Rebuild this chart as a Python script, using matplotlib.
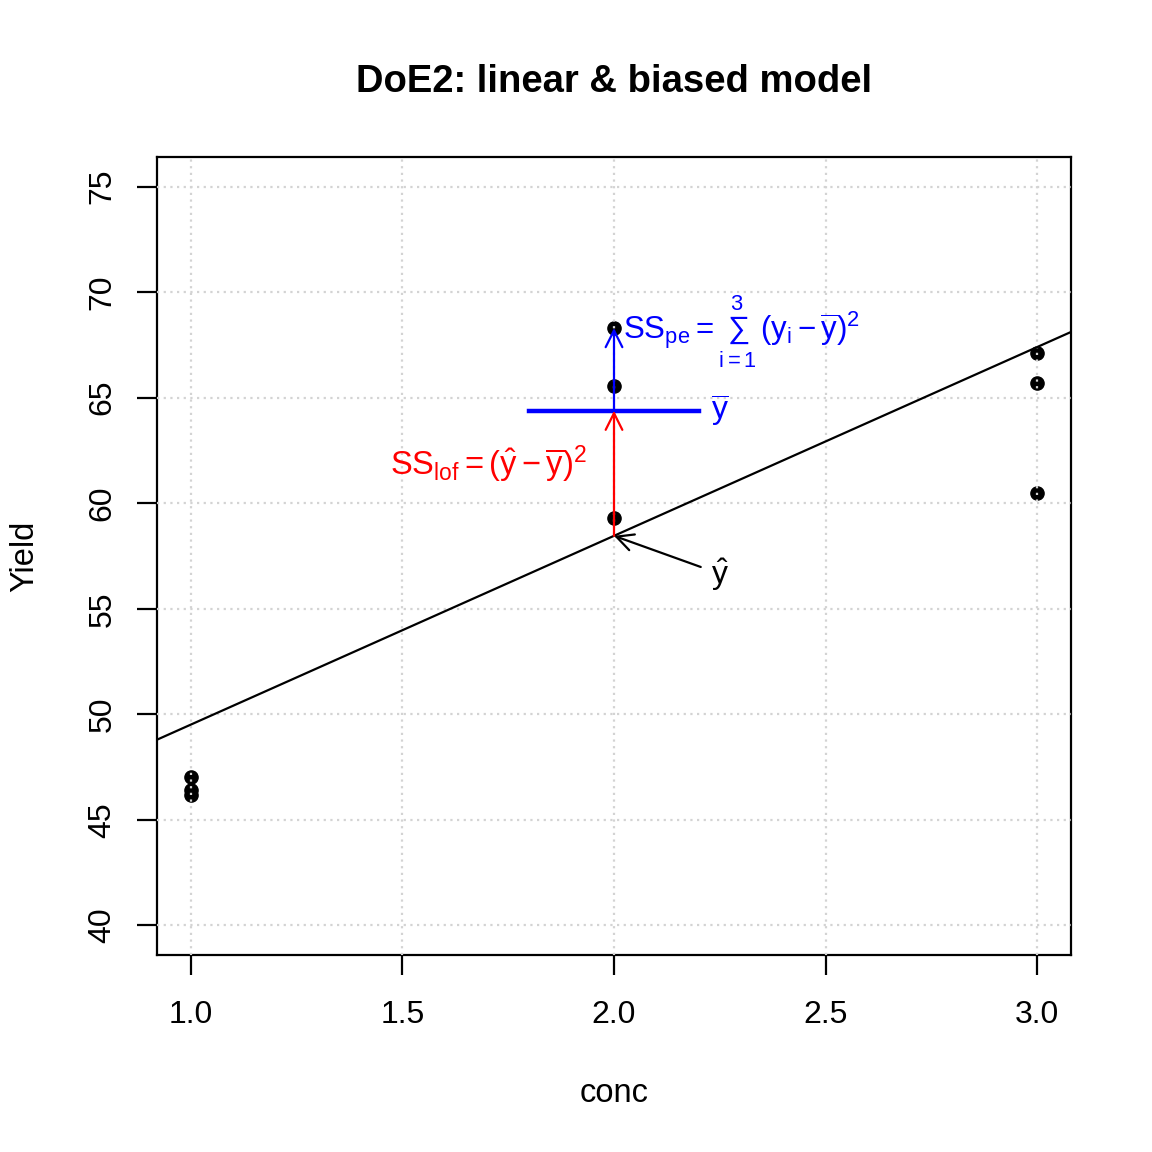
import numpy as np
import matplotlib
matplotlib.use("Agg")
import matplotlib.pyplot as plt
from matplotlib.patches import FancyArrowPatch

plt.rcParams['font.family'] = ['Liberation Sans', 'DejaVu Sans']
plt.rcParams['mathtext.fontset'] = 'custom'
plt.rcParams['mathtext.rm'] = 'Liberation Sans'
plt.rcParams['mathtext.it'] = 'Liberation Sans'
plt.rcParams['mathtext.bf'] = 'Liberation Sans:bold'

# データ
conc = [1, 1, 1, 2, 2, 2, 3, 3, 3]
yield_ = [47.05, 46.4, 46.2, 68.3, 65.55, 59.3, 67.1, 65.7, 60.5]

xticks = [1.0, 1.5, 2.0, 2.5, 3.0]
yticks = [40, 45, 50, 55, 60, 65, 70, 75]

x = np.array(conc, dtype=float)
y = np.array(yield_)
b, a = np.polyfit(x, y, 1)
yhat2 = a + b * 2
y2 = y[x == 2]
ybar2 = y2.mean()
ymax2 = y2.max()

fig = plt.figure(figsize=(11.52, 11.52), dpi=100)
ax = fig.add_axes([157/1152, 1-955/1152, (1071-157)/1152, (955-157)/1152])

ax.set_xlim(0.92, 3.08)
ax.set_ylim(38.6, 76.4)

ax.plot(x, y, 'o', color='black', markersize=9.5, zorder=2)

# 格子線（点の上に描く）
for t in xticks:
    ax.axvline(t, color='#D3D3D3', lw=1.6, ls=(0, (1, 2)), zorder=3)
for t in yticks:
    ax.axhline(t, color='#D3D3D3', lw=1.6, ls=(0, (1, 2)), zorder=3)

xx = np.array([0.92, 3.08])
ax.plot(xx, a + b * xx, color='black', lw=1.6, zorder=4)

ax.plot([1.8, 2.2], [ybar2, ybar2], color='blue', lw=3.2, zorder=4)

def arrow(x0, y0, x1, y1, col):
    p = FancyArrowPatch((x0, y0), (x1, y1),
                        arrowstyle='->,head_length=12,head_width=6',
                        mutation_scale=1, color=col, lw=1.6,
                        shrinkA=0, shrinkB=0, zorder=5)
    ax.add_patch(p)

arrow(2, yhat2, 2, ybar2, 'red')
arrow(2, ybar2, 2, ymax2, 'blue')
arrow(2.205, 56.98, 2, yhat2, 'black')

ax.text(2.022, 68.1, r'$\mathrm{SS}_{\mathrm{pe}} = \sum_{i=1}^{3}\,(y_i - \overline{y})^2$',
        color='blue', fontsize=22.5, ha='left', va='center', zorder=6)
ax.text(1.935, 61.85, r'$\mathrm{SS}_{\mathrm{lof}} = (\hat{y} - \overline{y})^2$',
        color='red', fontsize=23.5, ha='right', va='center', zorder=6)
ax.text(2.23, ybar2, r'$\overline{y}$', color='blue', fontsize=23,
        ha='left', va='center', zorder=6)
ax.text(2.23, 56.6, r'$\hat{y}$', color='black', fontsize=23,
        ha='left', va='center', zorder=6)

ax.set_xticks(xticks)
ax.set_xticklabels(['1.0', '1.5', '2.0', '2.5', '3.0'], fontsize=23)
ax.set_yticks(yticks)
ax.set_yticklabels([str(t) for t in yticks], fontsize=23, rotation=90, va='center')
ax.tick_params(direction='out', length=14.4, width=1.6)
ax.tick_params(axis='x', pad=18)
ax.tick_params(axis='y', pad=14)
for s in ax.spines.values():
    s.set_linewidth(1.6)

fig.text(614/1152, 1-1094/1152, 'conc', fontsize=23.5, ha='center', va='center')
fig.text(25/1152, 1-556/1152, 'Yield', fontsize=23.5, ha='center', va='center', rotation=90)
fig.text(614/1152, 1-82/1152, 'DoE2: linear & biased model', fontsize=27.5,
         fontweight='bold', ha='center', va='center')

fig.savefig('out.png', dpi=100)
